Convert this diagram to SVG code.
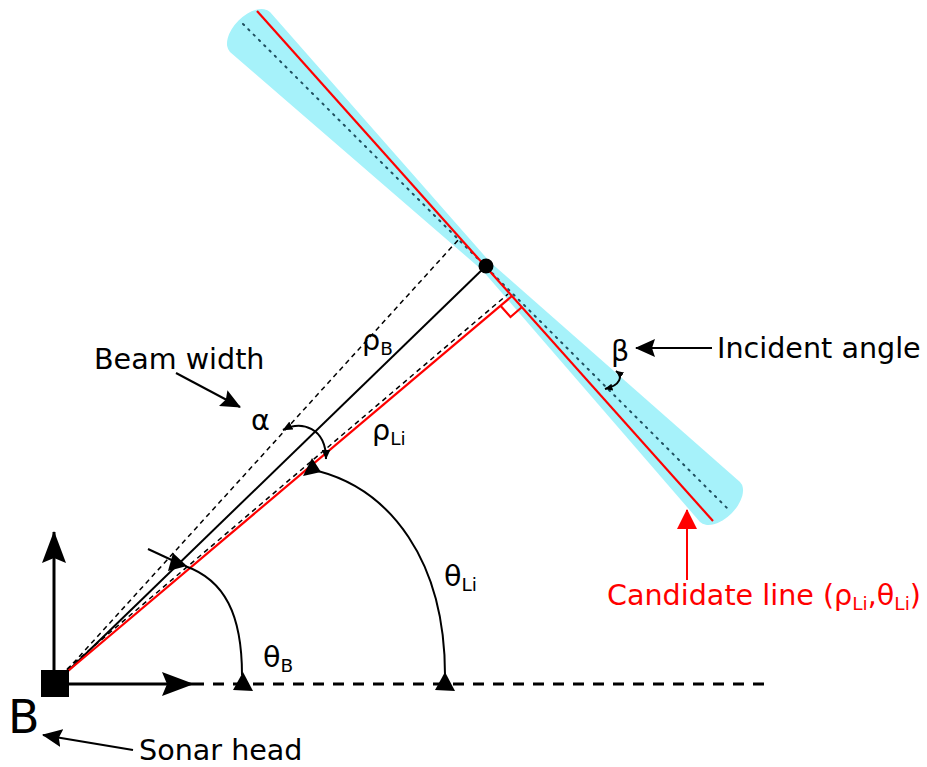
<svg xmlns="http://www.w3.org/2000/svg" width="927" height="767" viewBox="0 0 927 767">
<style>
text{font-family:"DejaVu Sans","Liberation Sans",sans-serif;font-size:28.6px;fill:#000}
.sub{font-size:18.5px}
.red{fill:#ff0000}
.ln{fill:none;stroke:#000;stroke-width:2}
.dash{fill:none;stroke:#000;stroke-width:1.5;stroke-dasharray:5 4}
.rl{fill:none;stroke:#ff0000;stroke-width:2.2}
.ax{fill:none;stroke:#000;stroke-width:3}
</style>
<defs>
<marker id="big" markerUnits="userSpaceOnUse" markerWidth="32" markerHeight="24" viewBox="0 0 32 24" refX="31" refY="12" orient="auto"><path d="M0,0 L32,12 L0,24 L5,12 Z" fill="#000"/></marker>
<marker id="med" markerUnits="userSpaceOnUse" markerWidth="20" markerHeight="18" viewBox="0 0 20 18" refX="19" refY="9" orient="auto"><path d="M0,0 L20,9 L0,18 L3,9 Z" fill="#000"/></marker>
<marker id="medr" markerUnits="userSpaceOnUse" markerWidth="20" markerHeight="20" viewBox="0 0 20 20" refX="19" refY="10" orient="auto"><path d="M0,0 L20,10 L0,20 Z" fill="#ff0000"/></marker>
<marker id="sm" markerUnits="userSpaceOnUse" markerWidth="10" markerHeight="9" viewBox="0 0 10 9" refX="9.5" refY="4.5" orient="auto-start-reverse"><path d="M0,0 L10,4.5 L0,9 Z" fill="#000"/></marker>
<marker id="xs" markerUnits="userSpaceOnUse" markerWidth="8" markerHeight="7" viewBox="0 0 8 7" refX="7.5" refY="3.5" orient="auto-start-reverse"><path d="M0,0 L8,3.5 L0,7 Z" fill="#000"/></marker>
</defs>

<g id="beam">
<path d="M490,262 L270,12 A28,16 -45 0 0 230,52 L482,270 Z" fill="#a6f2fa"/>
<path d="M490,262 L740,482 A28,16 -45 0 1 700,522 L482,270 Z" fill="#a6f2fa"/>
<line x1="243" y1="24" x2="727" y2="508" stroke="#1f4f5f" stroke-width="2" stroke-dasharray="1.5 6" stroke-linecap="round"/>
</g>

<g id="connectors">
<line class="ax" x1="69" y1="684" x2="193" y2="684" marker-end="url(#big)"/>
<line class="ax" x1="54" y1="670" x2="54" y2="532" marker-end="url(#big)"/>
<line x1="193" y1="684" x2="767" y2="684" stroke="#000" stroke-width="3" stroke-dasharray="11 9"/>
<line class="dash" x1="67" y1="670" x2="459" y2="239"/>
<line class="dash" x1="67" y1="669" x2="508" y2="294"/>
<line class="ln" x1="68" y1="671" x2="486" y2="266"/>
<line class="rl" x1="68" y1="671" x2="512" y2="296"/>
<line class="rl" x1="257" y1="11" x2="713" y2="521"/>
<polyline class="rl" points="500.5,305.7 510.5,317 522,307"/>
<path class="ln" d="M283,430 C302,420 326,428 326,459" stroke-width="1.5" marker-start="url(#sm)" marker-end="url(#sm)"/>
<path class="ln" d="M616,371 C623,376 621,385 605,389" stroke-width="1.5" marker-start="url(#xs)" marker-end="url(#xs)"/>
<line class="ln" x1="148" y1="549" x2="176" y2="562"/>
<polygon points="173,553 168,571 187,566" fill="#000"/>
<path class="ln" d="M185,566 C225,580 242,615 242,675"/>
<polygon points="243,672 233,690 253,691" fill="#000"/>
<polygon points="312,458 303,476 321,472" fill="#000"/>
<path class="ln" d="M318,471 C390,490 445,560 445,675"/>
<polygon points="445,672 435,690 455,691" fill="#000"/>
<line class="ln" x1="176" y1="373" x2="240" y2="407" marker-end="url(#med)"/>
<line class="ln" x1="712" y1="348" x2="636" y2="348" marker-end="url(#med)"/>
<line class="ln" x1="133" y1="750" x2="43" y2="735" marker-end="url(#med)"/>
<line x1="687" y1="580" x2="687" y2="510" stroke="#ff0000" stroke-width="2" marker-end="url(#medr)"/>
</g>

<g id="sonar-head">
<rect x="41" y="670" width="28" height="27" fill="#000"/>
<text x="8" y="733" style="font-size:46px">B</text>
</g>
<g id="target-point">
<circle cx="486" cy="266" r="7.5" fill="#000"/>
</g>
<g id="labels">
<text x="94" y="369">Beam width</text>
<text x="717" y="358">Incident angle</text>
<text x="139" y="760">Sonar head</text>
<text x="251" y="430">α</text>
<text x="611" y="361">β</text>
<text x="362" y="350">ρ<tspan class="sub" dy="5">B</tspan></text>
<text x="372" y="440">ρ<tspan class="sub" dy="5">Li</tspan></text>
<text x="444" y="586">θ<tspan class="sub" dy="5">Li</tspan></text>
<text x="263" y="667">θ<tspan class="sub" dy="5">B</tspan></text>
<text x="607" y="605" class="red">Candidate line (ρ<tspan class="sub" dy="5">Li</tspan><tspan dy="-5">,θ</tspan><tspan class="sub" dy="5">Li</tspan><tspan dy="-5">)</tspan></text>
</g>
</svg>
